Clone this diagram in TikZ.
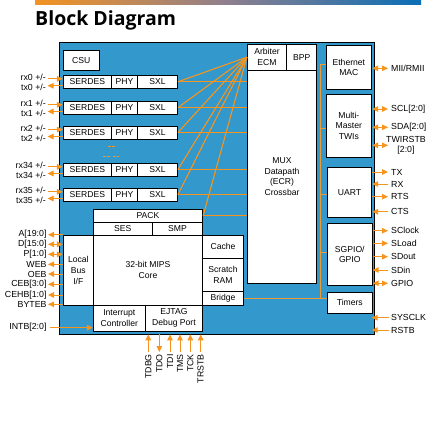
\documentclass[tikz,border=0pt]{standalone}
\usepackage{fontspec}
\setmainfont{Liberation Sans}
\newfontfamily\titlefont{Open Sans}
\usetikzlibrary{arrows.meta}
\definecolor{chipblue}{HTML}{3399CC}
\definecolor{sigorange}{HTML}{F7941D}
\definecolor{busorange}{HTML}{EE9A35}
\definecolor{gradL}{HTML}{F39322}
\definecolor{gradM}{HTML}{8E7F8E}
\definecolor{gradR}{HTML}{0A6EB6}
\tikzset{
  box/.style={draw=black, fill=white, line width=0.8pt, inner sep=0pt, align=center,
    font=\fontsize{8.6}{10.7}\selectfont},
  chipstyle/.style={draw=black, fill=chipblue, line width=0.8pt, inner sep=0pt},
  tipT/.tip={Triangle[length=6pt,width=5.5pt]},
  sig/.style={draw=sigorange, line width=1pt, -tipT},
  bisig/.style={draw=sigorange, line width=1pt, tipT-tipT},
  fan/.style={draw=sigorange, line width=1.1pt},
  hline/.style={draw=sigorange, line width=0.7pt},
  bus/.style={draw=busorange, line width=0.8pt},
  lbl/.style={font=\fontsize{8.8}{10}\selectfont, inner sep=0pt},
}
\newcommand\placebox[7]{%
  \node[#1, minimum width={(#5)-(#3)}, minimum height={(#6)-(#4)}] (#2)
    at ({((#3)+(#5))/2},{((#4)+(#6))/2}) {#7};}
\begin{document}
\begin{tikzpicture}[x=1pt, y=-1pt]
\useasboundingbox (0,0) rectangle (442,429);
% header bar and title
\shade[left color=gradL, right color=gradR, middle color=gradM] (35,0) rectangle (421,4);
\node[anchor=base west, inner sep=0pt, font=\titlefont\bfseries\fontsize{19.5}{19.5}\selectfont] (title) at (35,25.5) {Block Diagram};

% chip
\placebox{chipstyle}{chip}{59}{42}{374}{334}{}
\placebox{box}{csu}{63.3}{50.7}{99.3}{70}{CSU}

% crossbar
\placebox{box}{arb}{247.3}{44.3}{286.7}{70}{Arbiter\\ECM}
\placebox{box}{bpp}{286.7}{44.3}{316.7}{70}{BPP}
\placebox{box}{mux}{247.3}{70}{316.7}{283.3}{MUX\\Datapath\\(ECR)\\Crossbar}

% serdes rows
\foreach \i/\a/\b/\n in {0/75.3/88.3/0, 1/101.3/114/1, 2/126/139/2, 3/163.3/176/34, 4/188.3/201/35}{
  \placebox{box}{serdes\i}{63.3}{\a}{111.5}{\b}{SERDES}
  \placebox{box}{phy\i}{111.5}{\a}{137.5}{\b}{PHY}
  \placebox{box}{sxl\i}{137.5}{\a}{177.5}{\b}{SXL}
  \node[lbl, anchor=east] (rxl\i) at (46,{\a+2}) {rx\n{} +/-};
  \node[lbl, anchor=east] (txl\i) at (46,{\b-0.5}) {tx\n{} +/-};
  \coordinate (rxs\i) at (47.5,{\a+3.5});
  \coordinate (txe\i) at (47.5,{\b-2.5});
  \draw[sig] (rxs\i) -- (rxs\i -| serdes\i.west);
  \draw[sig] (txe\i -| serdes\i.west) -- (txe\i);
  \draw[hline] (sxl\i.east) -- (sxl\i.east -| mux.west);
  \draw[fan] (arb.west) -- (sxl\i.east);
}
% continuation dashes
\draw[sigorange, line width=0.8pt, dash pattern=on 2.6pt off 1pt] (108.3,146) -- (115,146);
\draw[sigorange, line width=0.8pt, dash pattern=on 2.6pt off 1pt] (103.3,156.3) -- (109.5,156.3);
\draw[sigorange, line width=0.8pt, dash pattern=on 2.6pt off 1pt] (113,156.3) -- (119.3,156.3);

% CPU complex
\placebox{box}{pack}{93.3}{209.3}{202.7}{222.3}{PACK}
\placebox{box}{ses}{93.3}{222.3}{152.3}{235}{SES}
\placebox{box}{smp}{152.3}{222.3}{202.7}{235}{SMP}
\placebox{box}{core}{93.3}{235}{202.7}{305.3}{32-bit MIPS\\Core}
\placebox{box}{lbus}{63.3}{235.7}{93.3}{305.3}{Local\\Bus\\I/F}
\placebox{box}{intc}{93.3}{305.3}{145.3}{331}{Interrupt\\Controller}
\placebox{box}{ejtag}{145.3}{305.3}{202.7}{331}{EJTAG\\Debug Port}
\placebox{box}{cache}{202.7}{235.3}{243.3}{258.3}{Cache}
\placebox{box}{sram}{202.7}{258.3}{243.3}{291}{Scratch\\RAM}
\placebox{box}{bridge}{202.7}{291}{243.3}{305.3}{Bridge}
\draw[fan] (arb.west) -- (pack.east);
\draw[hline] (pack.east) -- (pack.east -| mux.west);

% peripherals
\placebox{box}{eth}{326}{45.3}{371.7}{89.3}{Ethernet\\MAC}
\placebox{box}{twi}{326}{94.3}{371.7}{157.3}{Multi-\\Master\\TWIs}
\placebox{box}{uart}{327.3}{167.3}{371.7}{217.3}{UART}
\placebox{box}{sgpio}{327.3}{223.3}{372.3}{285.8}{SGPIO/\\GPIO}
\placebox{box}{timers}{327.3}{292.5}{372.3}{313}{Timers}

% peripheral bus
\coordinate (b1) at (320,64.3);
\coordinate (b2) at (320,128.3);
\coordinate (b3) at (320,194);
\coordinate (b4) at (320,252.7);
\coordinate (b5) at (bridge.east -| b1);
\draw[bus] (b1) -- (b5);
\draw[bus] (b1) -- (b1 -| eth.west);
\draw[bus] (b2) -- (b2 -| twi.west);
\draw[bus] (b3) -- (b3 -| uart.west);
\draw[bus] (b4) -- (b4 -| sgpio.west);
\draw[bus] (bridge.east) -- (bridge.east -| timers.west);

% right-side signals
\foreach \nm/\bx/\yy/\st/\tx in {
  mii/eth/68.3/bi/{MII/RMII},
  scl/twi/109/bi/SCL[2:0],
  sda/twi/127.3/bi/SDA[2:0],
  tx/uart/172/out/TX,
  rx/uart/184/in/RX,
  rts/uart/196.7/out/RTS,
  cts/uart/211.7/in/CTS,
  sclk/sgpio/230.7/out/SClock,
  sload/sgpio/243.3/out/SLoad,
  sdout/sgpio/256.7/out/SDout,
  sdin/sgpio/270/in/SDin,
  gpio/sgpio/283.3/bi/GPIO}{
  \coordinate (\nm) at (388,\yy);
  \node[lbl, anchor=west] (\nm l) at (391,\yy) {\tx};
  \ifnum\pdfstrcmp{\st}{out}=0 \draw[sig] (\nm -| \bx.east) -- (\nm);\fi
  \ifnum\pdfstrcmp{\st}{in}=0 \draw[sig] (\nm) -- (\nm -| \bx.east);\fi
  \ifnum\pdfstrcmp{\st}{bi}=0 \draw[bisig] (\nm -| \bx.east) -- (\nm);\fi
}
\coordinate (twirst) at (388,145.3);
\node[lbl, anchor=west, align=center, font=\fontsize{8.8}{10}\selectfont] (twirstl) at (386,145.3) {TWIRSTB\\{}[2:0]};
\draw[bisig] (twirst -| twi.east) -- (twirst);
\coordinate (sysclk) at (389,317.7);
\coordinate (sysclkt) at (371.7,317.7);
\node[lbl, anchor=west] (sysclkl) at (391,317.7) {SYSCLK};
\draw[sig] (sysclk) -- (sysclkt);
\coordinate (rstb) at (389,330);
\coordinate (rstbt) at (371.7,330);
\node[lbl, anchor=west] (rstbl) at (391,330) {RSTB};
\draw[sig] (rstb) -- (rstbt);

% left-side local bus signals
\foreach \nm/\yy/\st/\tx in {
  addr/234.7/out/A[19:0],
  data/244.3/bi/D[15:0],
  par/254.3/bi/P[1:0],
  web/264.3/out/WEB,
  oeb/274/out/OEB,
  ceb/284.3/out/CEB[3:0],
  cehb/295/out/CEHB[1:0],
  byteb/304.3/out/BYTEB}{
  \coordinate (\nm) at (48,\yy);
  \node[lbl, anchor=east] (\nm l) at (46.7,\yy) {\tx};
  \ifnum\pdfstrcmp{\st}{out}=0 \draw[sig] (\nm -| lbus.west) -- (\nm);\fi
  \ifnum\pdfstrcmp{\st}{bi}=0 \draw[bisig] (\nm -| lbus.west) -- (\nm);\fi
}
\coordinate (intb) at (50,327.7);
\node[lbl, anchor=east] (intbl) at (46.7,327.7) {INTB[2:0]};
\draw[sig] (intb) -- (intb -| intc.west);

% JTAG signals
\foreach \nm/\xx/\st/\tx in {tdbg/148.3/in/TDBG, tdo/159.3/out/TDO, tdi/170/in/TDI,
  tms/180/in/TMS, tck/190.3/in/TCK, trstb/200.7/in/TRSTB}{
  \coordinate (\nm) at (\xx,352);
  \node[lbl, anchor=east, rotate=90] (\nm l) at (\xx,354) {\tx};
  \ifnum\pdfstrcmp{\st}{in}=0 \draw[sig] (\nm) -- (\nm |- chip.south);\fi
  \ifnum\pdfstrcmp{\st}{out}=0 \draw[sig] (\nm |- chip.south) -- (\nm);\fi
}
\end{tikzpicture}
\end{document}
